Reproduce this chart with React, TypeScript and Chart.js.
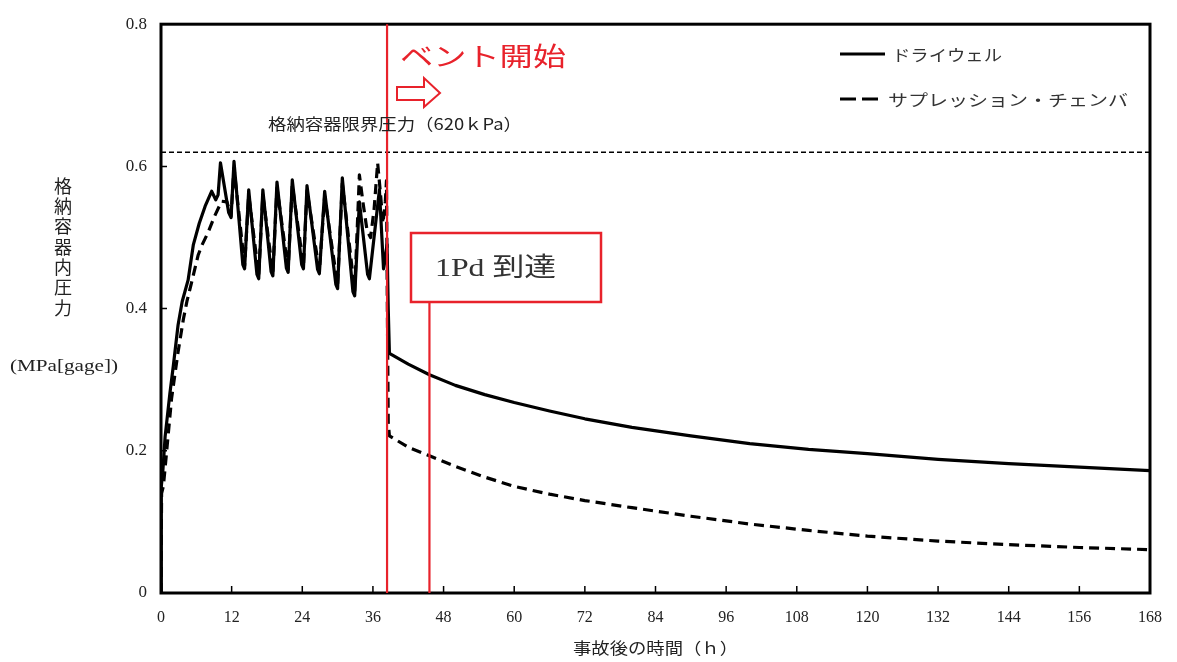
import { useEffect, useRef } from 'react';
import { Chart, registerables } from 'chart.js';

Chart.register(...registerables);

// ---- data ----
const DW_TIME = [0, 0.05, 0.3, 0.7, 1.5, 2.1, 2.9, 3.6, 4.6, 5.5, 6.5, 7.5, 8.6, 9.3, 9.7, 10.1, 11.5, 11.9, 12.4, 13.9, 14.2, 14.9, 16.3, 16.6, 17.3, 18.7, 19.0, 19.7, 21.3, 21.6, 22.3, 23.9, 24.2, 24.8, 26.6, 26.9, 27.8, 29.7, 30.0, 30.8, 32.6, 32.9, 33.7, 35.1, 35.4, 37.1, 37.8, 38.4, 38.6, 38.8, 42, 45.6, 50, 55, 60, 66, 72, 80, 90, 100, 110, 120, 132, 144, 156, 168];
const DW_PRESSURE = [0, 0.15, 0.17, 0.22, 0.28, 0.32, 0.377, 0.41, 0.44, 0.49, 0.52, 0.544, 0.565, 0.553, 0.56, 0.605, 0.535, 0.528, 0.607, 0.462, 0.456, 0.567, 0.448, 0.442, 0.567, 0.452, 0.446, 0.578, 0.457, 0.451, 0.581, 0.462, 0.456, 0.573, 0.455, 0.449, 0.565, 0.434, 0.428, 0.584, 0.424, 0.418, 0.55, 0.448, 0.442, 0.567, 0.456, 0.49, 0.40, 0.337, 0.322, 0.307, 0.292, 0.279, 0.268, 0.256, 0.245, 0.233, 0.221, 0.210, 0.202, 0.196, 0.188, 0.182, 0.177, 0.172];

const SC_TIME = [0, 0.1, 0.4, 0.7, 1.8, 2.9, 3.8, 4.4, 5.2, 6.3, 7.0, 8.0, 9.1, 10.3, 11.2, 11.9, 12.4, 14.2, 14.9, 16.6, 17.3, 19.0, 19.7, 21.6, 22.3, 24.2, 24.8, 26.9, 27.8, 30.0, 30.8, 32.9, 33.7, 34.3, 35.0, 35.6, 36.2, 36.8, 37.3, 37.7, 38.1, 38.3, 38.45, 38.6, 38.8, 42, 45.6, 50, 55, 60, 66, 72, 80, 90, 100, 110, 120, 132, 144, 156, 168];
const SC_PRESSURE = [0, 0.14, 0.15, 0.176, 0.274, 0.339, 0.385, 0.41, 0.437, 0.475, 0.49, 0.507, 0.53, 0.551, 0.55, 0.53, 0.598, 0.46, 0.56, 0.447, 0.56, 0.45, 0.57, 0.455, 0.574, 0.46, 0.566, 0.453, 0.558, 0.433, 0.576, 0.425, 0.588, 0.55, 0.51, 0.50, 0.54, 0.605, 0.56, 0.52, 0.55, 0.58, 0.40, 0.24, 0.221, 0.205, 0.193, 0.178, 0.163, 0.150, 0.139, 0.130, 0.120, 0.108, 0.097, 0.088, 0.080, 0.073, 0.068, 0.064, 0.061];

const X_TICKS = [0, 12, 24, 36, 48, 60, 72, 84, 96, 108, 120, 132, 144, 156, 168];
const Y_TICKS = [0, 0.2, 0.4, 0.6, 0.8];
const Y_TICK_LABELS = ['0', '0.2', '0.4', '0.6', '0.8'];

const LIMIT_PRESSURE = 0.62;
const VENT_TIME = 38.4;
const PD_TIME = 45.6;

const SERIES_LABELS = ['ドライウェル', 'サプレッション・チェンバ'];
const X_TITLE = '事故後の時間（ｈ）';
const Y_TITLE = '格納容器内圧力';
const Y_UNIT = '(MPa[gage])';
const LIMIT_LABEL = '格納容器限界圧力（620ｋPa）';
const VENT_LABEL = 'ベント開始';
const PD_LABEL = '1Pd 到達';

const RED = '#e8222b';
const SERIF = "'Liberation Serif', 'Noto Sans CJK JP', serif";
const CJK = "'Noto Sans CJK JP', 'Liberation Serif', sans-serif";

function fitText(ctx: CanvasRenderingContext2D, text: string, x: number, y: number, font: string, width: number, align: 'left' | 'center', color: string) {
  ctx.save();
  ctx.font = font;
  ctx.fillStyle = color;
  ctx.textBaseline = 'middle';
  ctx.textAlign = 'left';
  const w = ctx.measureText(text).width;
  const s = width / w;
  const left = align === 'center' ? x - width / 2 : x;
  ctx.translate(left, y);
  ctx.scale(s, 1);
  ctx.fillText(text, 0, 0);
  ctx.restore();
}

const overlay = {
  id: 'overlay',
  afterDraw(chart: any) {
    const { ctx, chartArea: a, scales } = chart;
    const xs = scales.x;
    const ys = scales.y;
    ctx.save();
    // frame
    ctx.strokeStyle = '#000';
    ctx.lineWidth = 3;
    ctx.strokeRect(a.left, a.top, a.right - a.left, a.bottom - a.top);
    // inward ticks
    ctx.lineWidth = 1.5;
    ctx.beginPath();
    X_TICKS.forEach((t) => {
      const px = xs.getPixelForValue(t);
      ctx.moveTo(px, a.bottom);
      ctx.lineTo(px, a.bottom - 7);
    });
    Y_TICKS.forEach((v) => {
      const py = ys.getPixelForValue(v);
      ctx.moveTo(a.left, py);
      ctx.lineTo(a.left + 6, py);
    });
    ctx.stroke();

    // red lines
    const vx = xs.getPixelForValue(VENT_TIME);
    const px = xs.getPixelForValue(PD_TIME);
    ctx.strokeStyle = RED;
    ctx.lineWidth = 2.2;
    ctx.beginPath();
    ctx.moveTo(vx, a.top);
    ctx.lineTo(vx, a.bottom);
    ctx.moveTo(px, 302);
    ctx.lineTo(px, a.bottom);
    ctx.stroke();
    // 1Pd box
    ctx.lineWidth = 2.5;
    ctx.strokeRect(411, 233, 190, 69);
    fitText(ctx, PD_LABEL, 435, 269, `26px ${SERIF}`, 121, 'left', '#333');

    // vent label and arrow
    fitText(ctx, VENT_LABEL, 400, 56, `26px ${CJK}`, 166, 'left', RED);
    ctx.beginPath();
    ctx.moveTo(397, 87);
    ctx.lineTo(424, 87);
    ctx.lineTo(424, 78);
    ctx.lineTo(440, 93);
    ctx.lineTo(424, 107);
    ctx.lineTo(424, 100);
    ctx.lineTo(397, 100);
    ctx.closePath();
    ctx.fillStyle = '#fff';
    ctx.fill();
    ctx.strokeStyle = RED;
    ctx.lineWidth = 2;
    ctx.stroke();

    // limit label
    fitText(ctx, LIMIT_LABEL, 268, 124, `16px ${CJK}`, 254, 'left', '#222');

    // legend
    ctx.strokeStyle = '#000';
    ctx.lineWidth = 3;
    ctx.beginPath();
    ctx.moveTo(840, 54);
    ctx.lineTo(885, 54);
    ctx.moveTo(840, 99);
    ctx.lineTo(856, 99);
    ctx.moveTo(862, 99);
    ctx.lineTo(878, 99);
    ctx.stroke();
    fitText(ctx, SERIES_LABELS[0], 892, 55, `16px ${CJK}`, 110, 'left', '#333');
    fitText(ctx, SERIES_LABELS[1], 888, 100, `16px ${CJK}`, 240, 'left', '#333');

    // axis titles
    fitText(ctx, X_TITLE, (a.left + a.right) / 2, 648, `16px ${CJK}`, 165, 'center', '#222');
    const chars = Array.from(Y_TITLE);
    chars.forEach((c, i) => {
      fitText(ctx, c, 63, 186 + i * 20.3, `18px ${CJK}`, 18, 'center', '#222');
    });
    fitText(ctx, Y_UNIT, 64, 367, `16px ${SERIF}`, 108, 'center', '#222');
    ctx.restore();
  },
};

export default function App() {
  const ref = useRef<HTMLCanvasElement | null>(null);
  useEffect(() => {
    if (!ref.current) return;
    const chart = new Chart(ref.current, {
      type: 'line',
      data: {
        datasets: [
          {
            label: SERIES_LABELS[0],
            data: DW_TIME.map((t, i) => ({ x: t, y: DW_PRESSURE[i] })),
            borderColor: '#000',
            borderWidth: 3.2,
            borderJoinStyle: 'round',
            pointRadius: 0,
            tension: 0,
            fill: false,
          },
          {
            label: SERIES_LABELS[1],
            data: SC_TIME.map((t, i) => ({ x: t, y: SC_PRESSURE[i] })),
            borderColor: '#000',
            borderWidth: 3.2,
            borderDash: [10, 6],
            borderJoinStyle: 'round',
            pointRadius: 0,
            tension: 0,
            fill: false,
          },
          {
            label: LIMIT_LABEL,
            data: [
              { x: X_TICKS[0], y: LIMIT_PRESSURE },
              { x: X_TICKS[X_TICKS.length - 1], y: LIMIT_PRESSURE },
            ],
            borderColor: '#000',
            borderWidth: 1.6,
            borderDash: [5, 3],
            pointRadius: 0,
            fill: false,
          },
        ],
      },
      options: {
        animation: false,
        responsive: false,
        devicePixelRatio: 1,
        layout: { padding: { left: 0, top: 20, right: 24, bottom: 0 } },
        plugins: { legend: { display: false }, tooltip: { enabled: false } },
        scales: {
          x: {
            type: 'linear',
            min: 0,
            max: 168,
            grid: { display: false, drawTicks: false },
            border: { display: false },
            afterBuildTicks: (s: any) => {
              s.ticks = X_TICKS.map((v) => ({ value: v }));
            },
            afterFit: (s: any) => {
              s.height = 69;
            },
            ticks: {
              padding: 15,
              color: '#222',
              font: { family: SERIF, size: 16 },
              maxRotation: 0,
              autoSkip: false,
            },
          },
          y: {
            type: 'linear',
            min: 0,
            max: 0.8,
            grid: { display: false, drawTicks: false },
            border: { display: false },
            afterBuildTicks: (s: any) => {
              s.ticks = Y_TICKS.map((v) => ({ value: v }));
            },
            afterFit: (s: any) => {
              s.width = 161;
            },
            ticks: {
              padding: 14,
              color: '#222',
              font: { family: SERIF, size: 17 },
              callback: (v: any) => {
                const i = Y_TICKS.findIndex((t) => Math.abs(t - Number(v)) < 1e-9);
                return i >= 0 ? Y_TICK_LABELS[i] : '';
              },
            },
          },
        },
      },
      plugins: [overlay],
    });
    return () => chart.destroy();
  }, []);
  return (
    <div style={{ position: 'fixed', left: 0, top: 0, width: 1177, height: 662, background: '#fff' }}>
      <canvas ref={ref} width={1177} height={662} />
    </div>
  );
}
